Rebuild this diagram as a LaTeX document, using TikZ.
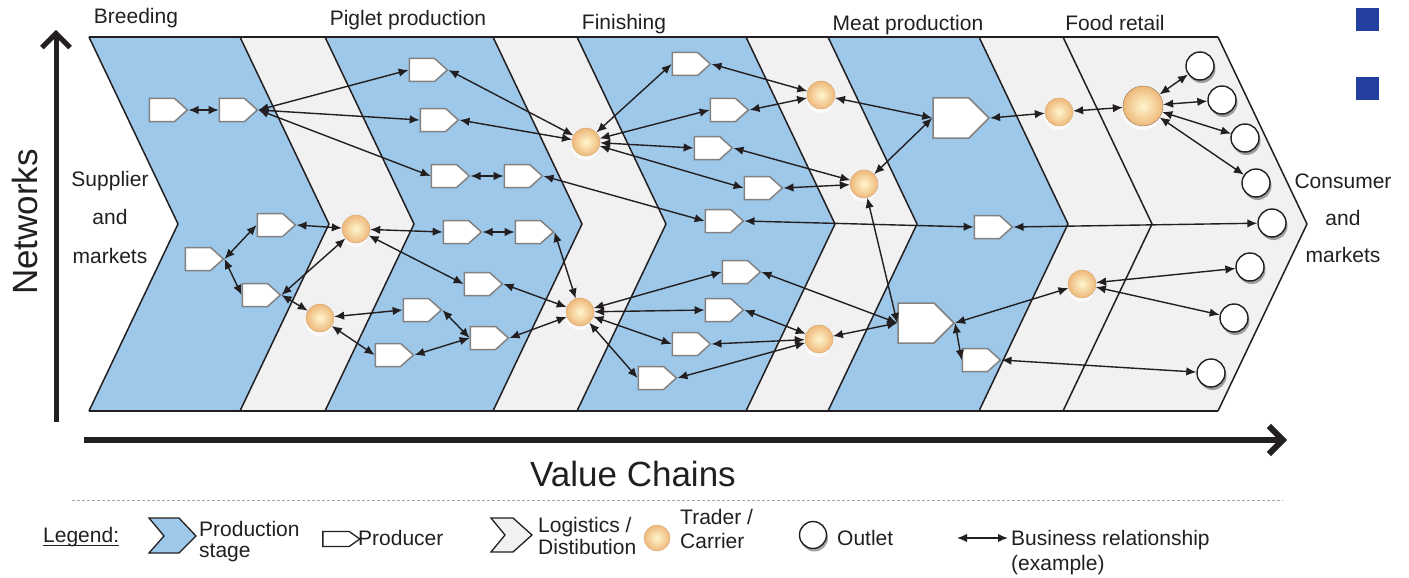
\documentclass[tikz,border=0pt]{standalone}
\usepackage{fontspec}
\setmainfont{Liberation Sans}
\usetikzlibrary{arrows.meta,shapes.symbols,shadows}
\definecolor{stageblue}{RGB}{158,200,234}
\definecolor{loggray}{RGB}{241,241,241}
\definecolor{ink}{RGB}{35,31,32}
\definecolor{prodedge}{RGB}{130,130,130}
\definecolor{markblue}{RGB}{35,64,160}
\definecolor{tradein}{RGB}{255,246,206}
\definecolor{tradeout}{RGB}{238,184,122}
\definecolor{tradeedge}{RGB}{214,168,118}
\begin{document}
\begin{tikzpicture}[x=1pt,y=-1pt,
  chev/.style={draw=ink,line width=1.5pt,line join=miter},
  prod/.style={signal,signal to=east,signal pointer angle=84,draw=prodedge,line width=1.5pt,
    fill=white,minimum width=38pt,minimum height=23pt,inner sep=0pt},
  bigprod/.style={prod,signal pointer angle=90,minimum width=56pt,minimum height=40pt},
  trader/.style={circle,inner sep=0pt,minimum size=28pt,inner color=tradein,outer color=tradeout,
    draw=tradeedge,line width=0.4pt,
    drop shadow={shadow xshift=-1pt,shadow yshift=-4pt,fill=white,opacity=0.7}},
  outlet/.style={circle,inner sep=0pt,minimum size=28pt,draw=ink,line width=1.4pt,fill=white,
    drop shadow={shadow xshift=1.5pt,shadow yshift=-3pt,fill=black,opacity=0.35}},
  rel/.style={draw=ink,line width=1.4pt,{Latex[length=10pt,width=8.5pt]}-{Latex[length=10pt,width=8.5pt]}},
  lbl/.style={text=ink,inner sep=0pt,font=\fontsize{21}{25}\selectfont},
  big/.style={text=ink,inner sep=0pt,font=\fontsize{35}{40}\selectfont},
  axis/.style={draw=ink,-{Straight Barb[length=14pt,width=28pt]}}
]
\useasboundingbox (0,0) rectangle (1409,578);

% ---- value-chain stripes ----
\foreach \a/\b/\c in {89/240/stageblue,240/325/loggray,325/493/stageblue,493/577/loggray,
  577/746/stageblue,746/828/loggray,828/979/stageblue,979/1063/loggray,1063/1218/loggray}
  \fill[\c] (\a,37) -- (\b,37) -- (\b+89,224) -- (\b,411) -- (\a,411) -- (\a+89,224) -- cycle;
\foreach \a in {89,240,325,493,577,746,828,979,1063,1218}
  \draw[chev] (\a,37) -- (\a+89,224) -- (\a,411);
\draw[chev] (89,37) -- (1218,37);
\draw[chev] (89,411) -- (1218,411);

% ---- stage titles ----
\node[lbl,anchor=base] (tBreed) at (136,24) {Breeding};
\node[lbl,anchor=base] (tPiglet) at (408,26) {Piglet production};
\node[lbl,anchor=base] (tFinish) at (624,30) {Finishing};
\node[lbl,anchor=base] (tMeat) at (908,31) {Meat production};
\node[lbl,anchor=base] (tRetail) at (1115,31) {Food retail};
\node[lbl,anchor=north,align=center,font=\fontsize{21}{38.5}\selectfont] (tSupply) at (110,171) {Supplier\\and\\markets};
\node[lbl,anchor=north,align=center,font=\fontsize{21}{37}\selectfont] (tConsume) at (1343,174) {Consumer\\and\\markets};

% ---- axes ----
\coordinate (yFrom) at (56,422); \coordinate (yTo) at (56,30);
\coordinate (xFrom) at (84,440); \coordinate (xTo) at (1287,440);
\draw[axis,line width=5pt] (yFrom) -- (yTo);
\draw[axis,line width=6pt] (xFrom) -- (xTo);
\node[big,anchor=base,rotate=90] (tNet) at (37,222) {Networks};
\node[big,anchor=base] (tVC) at (633,486) {Value Chains};

% ---- marks at top right ----
\fill[markblue] (1356,8) rectangle (1379,31);
\fill[markblue] (1356,77) rectangle (1379,100);

% ---- producers ----
\node[prod] (P1) at (162,110) {};
\node[prod] (P2) at (232,110) {};
\node[prod] (P3) at (270,225) {};
\node[prod] (P4) at (198,259) {};
\node[prod] (P5) at (255,295) {};
\node[prod] (Q1) at (422,70) {};
\node[prod] (Q2) at (433,120) {};
\node[prod] (Q3) at (444,176) {};
\node[prod] (Q4) at (456,232) {};
\node[prod] (Q5) at (477,284) {};
\node[prod] (Q6) at (416,310) {};
\node[prod] (Q7) at (483,338) {};
\node[prod] (Q8) at (388,355) {};
\node[prod] (Q3b) at (517,176) {};
\node[prod] (Q4b) at (528,232) {};
\node[prod] (R1) at (685,64) {};
\node[prod] (R2) at (723,110) {};
\node[prod] (R3) at (707,148) {};
\node[prod] (R4) at (757,188) {};
\node[prod] (R5) at (718,221) {};
\node[prod] (R6) at (735,272) {};
\node[prod] (R7) at (718,310) {};
\node[prod] (R8) at (685,344) {};
\node[prod] (R9) at (651,378) {};
\node[prod] (M3) at (987,227) {};
\node[prod] (M4) at (975,360) {};
\node[bigprod] (M1) at (951,118) {};
\node[bigprod] (M2) at (916,323) {};

% ---- traders ----
\node[trader] (T1) at (356,229) {};
\node[trader] (T2) at (320,318) {};
\node[trader] (T3) at (586,142) {};
\node[trader] (T4) at (580,312) {};
\node[trader] (T5) at (821,95) {};
\node[trader] (T6) at (864,184) {};
\node[trader] (T7) at (819,339) {};
\node[trader] (T8) at (1059,112) {};
\node[trader,minimum size=40pt,draw=tradeedge!70!black] (T9) at (1143,106) {};
\node[trader] (T10) at (1082,284) {};

% ---- outlets ----
\node[outlet] (O1) at (1200,66) {};
\node[outlet] (O2) at (1222,100) {};
\node[outlet] (O3) at (1245,138) {};
\node[outlet] (O4) at (1256,183) {};
\node[outlet] (O5) at (1272,223) {};
\node[outlet] (O6) at (1250,267) {};
\node[outlet] (O7) at (1234,318) {};
\node[outlet] (O8) at (1211,373) {};

% ---- business relationships ----
\draw[rel] (P1.east) -- (P2.west);
\draw[rel] (P2.east) -- (Q1.west);
\draw[rel] (P2.east) -- (Q2.west);
\draw[rel] (P2.east) -- (Q3.west);
\draw[rel] (P4.east) -- (P3.west);
\draw[rel] (P4.east) -- (P5.west);
\draw[rel] (P3.east) -- (T1);
\draw[rel] (P5.east) -- (T1);
\draw[rel] (P5.east) -- (T2);
\draw[rel] (T1) -- (Q4.west);
\draw[rel] (T1) -- (Q5.west);
\draw[rel] (T2) -- (Q6.west);
\draw[rel] (T2) -- (Q8.west);
\draw[rel] (Q6.east) -- (Q7.west);
\draw[rel] (Q8.east) -- (Q7.west);
\draw[rel] (Q3.east) -- (Q3b.west);
\draw[rel] (Q4.east) -- (Q4b.west);
\draw[rel] (Q1.east) -- (T3);
\draw[rel] (Q2.east) -- (T3);
\draw[rel] (Q3b.east) -- (R5.west);
\draw[rel] (Q4b.east) -- (T4);
\draw[rel] (Q5.east) -- (T4);
\draw[rel] (Q7.east) -- (T4);
\draw[rel] (T3) -- (R1.west);
\draw[rel] (T3) -- (R2.west);
\draw[rel] (T3) -- (R3.west);
\draw[rel] (T3) -- (R4.west);
\draw[rel] (R1.east) -- (T5);
\draw[rel] (R2.east) -- (T5);
\draw[rel] (R3.east) -- (T6);
\draw[rel] (R4.east) -- (T6);
\draw[rel] (R5.east) -- (M3.west);
\draw[rel] (M3.east) -- (O5);
\draw[rel] (T4) -- (R6.west);
\draw[rel] (T4) -- (R7.west);
\draw[rel] (T4) -- (R8.west);
\draw[rel] (T4) -- (R9.west);
\draw[rel] (R6.east) -- (M2.west);
\draw[rel] (R7.east) -- (T7);
\draw[rel] (R8.east) -- (T7);
\draw[rel] (R9.east) -- (T7);
\draw[rel] (T7) -- (M2.west);
\draw[rel] (T5) -- (M1.west);
\draw[rel] (T6) -- (M1.west);
\draw[rel] (T6) -- (M2.west);
\draw[rel] (M1.east) -- (T8);
\draw[rel] (T8) -- (T9);
\draw[rel] (T9) -- (O1);
\draw[rel] (T9) -- (O2);
\draw[rel] (T9) -- (O3);
\draw[rel] (T9) -- (O4);
\draw[rel] (M2.east) -- (M4.west);
\draw[rel] (M2.east) -- (T10);
\draw[rel] (T10) -- (O6);
\draw[rel] (T10) -- (O7);
\draw[rel] (M4.east) -- (O8);

% ---- legend ----
\draw[gray!70,line width=0.7pt,dash pattern=on 3pt off 2pt] (72,500) -- (1283,500);
\node[lbl,anchor=base west] (lgTitle) at (43,542) {Legend:};
\draw[ink,line width=1pt] ([yshift=-3pt]lgTitle.base west) -- ([yshift=-3pt]lgTitle.base east);
\draw[chev,fill=stageblue,line width=1.3pt] (149,518) -- (179,518) -- (196,536) -- (179,553) -- (149,553) -- (164,536) -- cycle;
\node[lbl,anchor=north west,align=left,font=\fontsize{21}{21}\selectfont] (lgStage) at (199,521) {Production\\stage};
\node[prod,draw=ink,line width=1.3pt,minimum width=37pt,minimum height=15pt,signal pointer angle=70] (lgProd) at (336,539) {};
\node[lbl,anchor=base west] (lgProdT) at (358,545) {Producer};
\draw[chev,fill=loggray,line width=1.3pt] (491,518) -- (513,518) -- (532,535) -- (513,552) -- (491,552) -- (505,535) -- cycle;
\node[lbl,anchor=north west,align=left,font=\fontsize{21}{22}\selectfont] (lgLog) at (538,517) {Logistics /\\Distibution};
\node[trader,minimum size=26pt] (lgTrader) at (657,538) {};
\node[lbl,anchor=north west,align=left,font=\fontsize{21}{24}\selectfont] (lgTrad) at (680,509) {Trader /\\Carrier};
\node[outlet,minimum size=27pt] (lgOutlet) at (813,535) {};
\node[lbl,anchor=base west] (lgOutT) at (837,545) {Outlet};
\coordinate (lgA) at (957,538);
\coordinate (lgB) at (1008,538);
\draw[rel] (lgA) -- (lgB);
\node[lbl,anchor=north west,align=left,font=\fontsize{21}{25}\selectfont] (lgRel) at (1011,530) {Business relationship\\(example)};
\end{tikzpicture}
\end{document}
